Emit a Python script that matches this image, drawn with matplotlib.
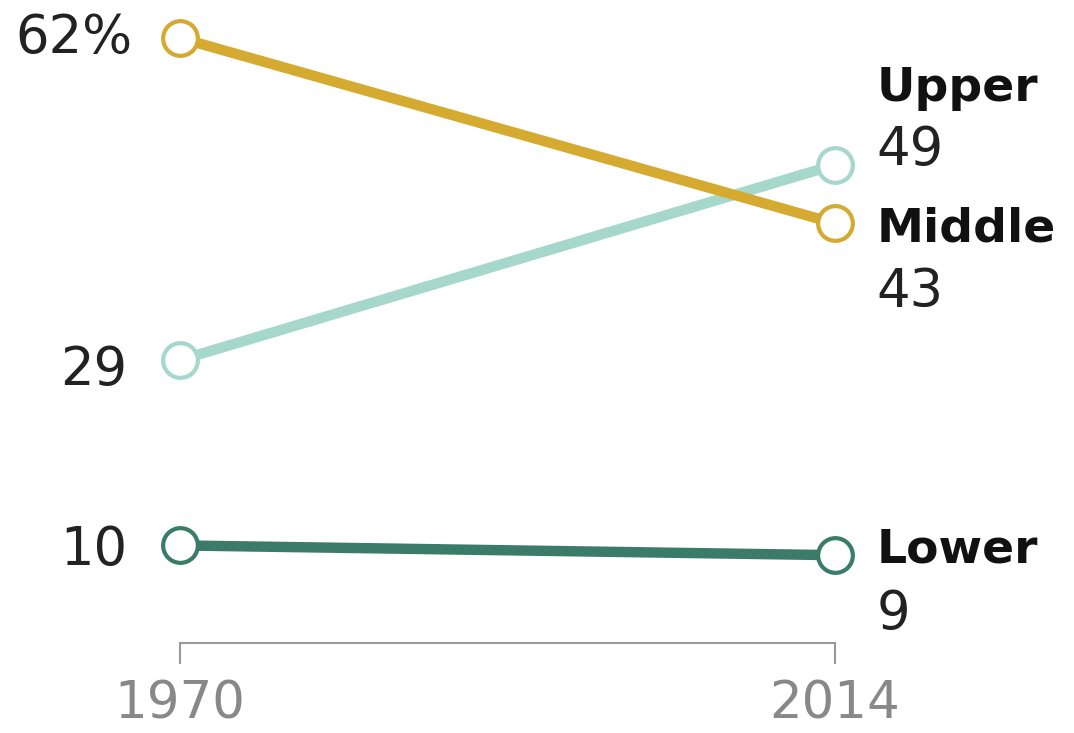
import matplotlib.pyplot as plt

years = ["1970", "2014"]
groups = ["Upper", "Middle", "Lower"]
upper = [29, 49]
middle = [62, 43]
lower = [10, 9]
colors = {"Upper": "#A5D8CB", "Middle": "#D4AA30", "Lower": "#3B7C69"}
series = {"Upper": upper, "Middle": middle, "Lower": lower}

plt.rcParams['font.family'] = ['DejaVu Sans']
fig = plt.figure(figsize=(10.74, 7.33), dpi=100)
ax = fig.add_axes([180/1074, 90/733, (835-180)/1074, (643-38)/733])
ax.set_xlim(0, 1)
ax.set_ylim(0, 62)

x = [0, 1]
for g in ["Lower", "Upper", "Middle"]:
    ax.plot(x, series[g], color=colors[g], lw=7.5, solid_capstyle='butt', zorder=2, clip_on=False)
    ax.plot(x, series[g], 'o', ms=25, mfc='white', mec=colors[g], mew=3, zorder=3, clip_on=False)

# left labels
left_texts = {"Middle": "62%", "Upper": "29", "Lower": "10"}
left_off = {"Middle": (-34, 0), "Upper": (-38, -7), "Lower": (-38, -3)}
for g, t in left_texts.items():
    ax.annotate(t, (0, series[g][0]), xytext=left_off[g], textcoords='offset points',
                ha='right', va='center', fontsize=38, color='#222222', annotation_clip=False)

# right labels
name_dy = {"Upper": 55, "Middle": -4, "Lower": 4}
num_dy = {"Upper": 11, "Middle": -49, "Lower": -42}
for g in groups:
    v = series[g][1]
    ax.annotate(g, (1, v), xytext=(30, name_dy[g]), textcoords='offset points',
                ha='left', va='center', fontsize=34, fontweight='bold', color='#111111', annotation_clip=False)
    ax.annotate(str(v), (1, v), xytext=(30, num_dy[g]), textcoords='offset points',
                ha='left', va='center', fontsize=38, color='#222222', annotation_clip=False)

for s in ["top", "right", "left"]:
    ax.spines[s].set_visible(False)
ax.spines["bottom"].set_color('#999999')
ax.spines["bottom"].set_linewidth(1.5)
ax.set_yticks([])
ax.set_xticks(x)
ax.set_xticklabels(years)
ax.tick_params(axis='x', length=15, width=1.5, color='#999999', labelsize=37, labelcolor='#888888', pad=11)

fig.savefig("out.png", dpi=100)
